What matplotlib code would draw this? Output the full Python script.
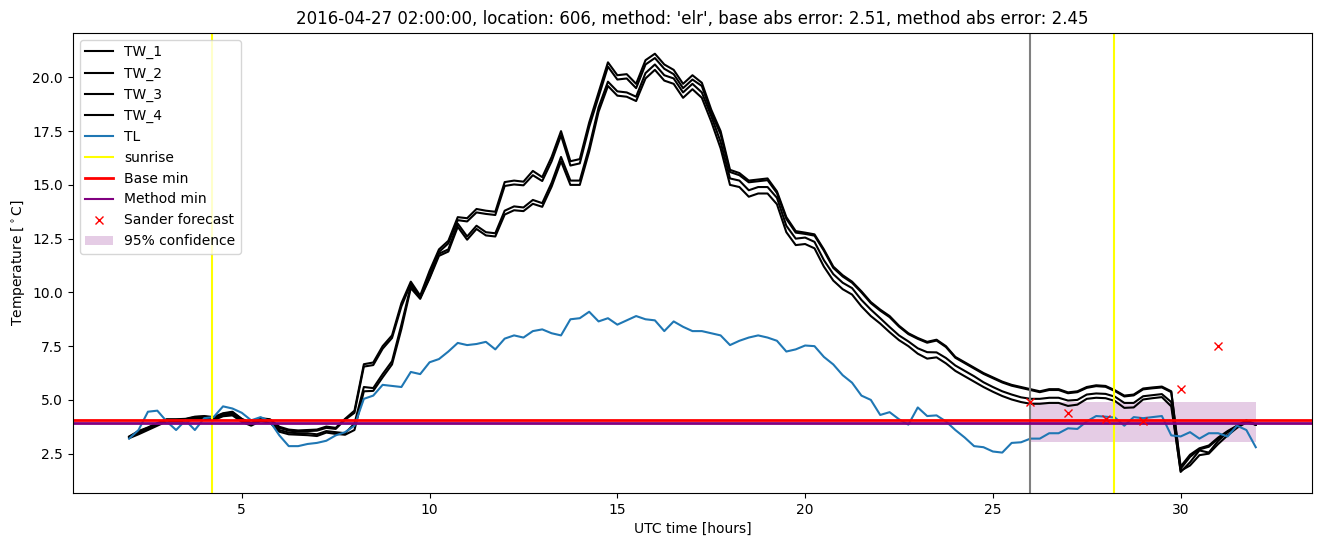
import numpy as np
import matplotlib
matplotlib.use("Agg")
import matplotlib.pyplot as plt

# time axis: hours since 2016-04-27 00:00 UTC, every 15 min
hours = np.arange(2.0, 32.01, 0.25)

tw_1 = [3.3, 3.55, 3.72, 3.92, 4.1, 4.1, 4.12, 4.22, 4.25, 4.2, 4.38, 4.45,
        4.12, 3.92, 4.15, 4.1, 3.75, 3.62, 3.58, 3.6, 3.62, 3.76, 3.7, 4.12,
        4.5, 6.66, 6.74, 7.5, 8.0, 9.5, 10.5, 9.85, 11.0, 12.0, 12.4, 13.5,
        13.45, 13.88, 13.8, 13.75, 15.13, 15.2, 15.15, 15.65, 15.36, 16.3, 17.5, 16.1,
        16.2, 17.9, 19.3, 20.7, 20.1, 20.15, 19.7, 20.8, 21.1, 20.6, 20.35, 19.7,
        20.1, 19.75, 18.5, 17.5, 15.7, 15.55, 15.2, 15.25, 15.3, 14.7, 13.5, 12.85,
        12.78, 12.7, 12.0, 11.2, 10.8, 10.5, 10.05, 9.55, 9.2, 8.9, 8.45, 8.1,
        7.88, 7.7, 7.8, 7.5, 7.0, 6.75, 6.5, 6.25, 6.05, 5.85, 5.7, 5.6,
        5.5, 5.4, 5.5, 5.5, 5.35, 5.4, 5.6, 5.68, 5.65, 5.45, 5.2, 5.25,
        5.53, 5.58, 5.62, 5.4, 1.9, 2.45, 2.75, 2.88, 3.25, 3.55, 3.8, 4.05, 3.85]

tw_2 = [3.28, 3.52, 3.7, 3.9, 4.08, 4.08, 4.1, 4.2, 4.22, 4.17, 4.35, 4.42,
        4.1, 3.9, 4.12, 4.07, 3.7, 3.57, 3.53, 3.55, 3.57, 3.7, 3.65, 4.08,
        4.4, 6.55, 6.62, 7.38, 7.88, 9.35, 10.4, 9.75, 10.9, 11.88, 12.28, 13.36,
        13.3, 13.72, 13.65, 13.6, 14.95, 15.02, 14.98, 15.45, 15.18, 16.1, 17.3, 15.9,
        16.0, 17.7, 19.1, 20.5, 19.9, 19.95, 19.5, 20.6, 20.9, 20.4, 20.15, 19.5,
        19.9, 19.6, 18.35, 17.35, 15.6, 15.45, 15.12, 15.17, 15.22, 14.62, 13.42, 12.78,
        12.72, 12.64, 11.94, 11.14, 10.74, 10.45, 10.0, 9.5, 9.15, 8.85, 8.41, 8.06,
        7.84, 7.66, 7.76, 7.46, 6.96, 6.71, 6.46, 6.21, 6.01, 5.81, 5.66, 5.56,
        5.46, 5.36, 5.46, 5.46, 5.31, 5.36, 5.56, 5.64, 5.61, 5.41, 5.16, 5.21,
        5.49, 5.54, 5.58, 5.36, 1.8, 2.35, 2.7, 2.82, 3.2, 3.52, 3.78, 4.02, 3.85]

tw_3 = [3.25, 3.45, 3.65, 3.85, 4.05, 4.05, 4.05, 4.15, 4.18, 4.12, 4.3, 4.35,
        4.05, 3.85, 4.08, 4.0, 3.6, 3.48, 3.45, 3.45, 3.4, 3.55, 3.5, 3.45,
        3.9, 5.6, 5.55, 6.2, 6.8, 8.5, 10.3, 9.75, 10.7, 11.8, 12.0, 13.2,
        12.6, 13.1, 12.8, 12.75, 13.8, 14.0, 13.95, 14.3, 14.15, 15.1, 16.3, 15.2,
        15.2, 16.75, 18.6, 19.8, 19.35, 19.3, 19.1, 20.2, 20.6, 20.1, 19.95, 19.3,
        19.7, 19.3, 18.2, 17.0, 15.3, 15.2, 14.75, 14.9, 14.9, 14.4, 13.1, 12.5,
        12.55, 12.35, 11.5, 10.85, 10.45, 10.2, 9.65, 9.2, 8.8, 8.39, 8.0, 7.72,
        7.4, 7.22, 7.21, 6.95, 6.6, 6.35, 6.1, 5.82, 5.6, 5.4, 5.25, 5.12,
        5.05, 5.05, 5.1, 5.1, 4.97, 5.0, 5.25, 5.3, 5.28, 5.15, 4.86, 4.86,
        5.17, 5.22, 5.27, 4.9, 1.65, 2.1, 2.65, 2.55, 3.1, 3.5, 3.75, 4.0, 3.85]

tw_4 = [3.22, 3.4, 3.6, 3.8, 4.0, 4.0, 4.0, 4.1, 4.12, 4.06, 4.24, 4.28,
        3.98, 3.8, 4.02, 3.94, 3.52, 3.4, 3.38, 3.36, 3.32, 3.48, 3.42, 3.38,
        3.6, 5.4, 5.42, 6.05, 6.65, 8.3, 10.2, 9.7, 10.65, 11.7, 11.9, 13.05,
        12.45, 12.95, 12.65, 12.6, 13.62, 13.82, 13.78, 14.12, 13.98, 14.92, 16.1, 15.0,
        15.0, 16.55, 18.4, 19.6, 19.15, 19.1, 18.9, 19.95, 20.35, 19.85, 19.7, 19.05,
        19.45, 19.05, 17.95, 16.7, 15.0, 14.9, 14.45, 14.6, 14.6, 14.1, 12.8, 12.2,
        12.25, 12.05, 11.2, 10.55, 10.15, 9.9, 9.35, 8.9, 8.55, 8.15, 7.78, 7.5,
        7.15, 6.92, 6.98, 6.7, 6.35, 6.1, 5.85, 5.6, 5.38, 5.18, 5.02, 4.9,
        4.82, 4.82, 4.86, 4.86, 4.72, 4.78, 5.05, 5.1, 5.08, 4.95, 4.63, 4.65,
        5.02, 5.08, 5.13, 4.7, 1.7, 1.95, 2.43, 2.5, 2.95, 3.35, 3.7, 3.95, 3.85]

tl = [3.2, 3.6, 4.45, 4.5, 4.0, 3.6, 4.05, 3.6, 4.15, 4.2, 4.7, 4.6,
      4.4, 4.05, 4.2, 4.0, 3.35, 2.85, 2.85, 2.95, 3.0, 3.1, 3.35, 3.5,
      3.8, 5.05, 5.2, 5.7, 5.65, 5.6, 6.3, 6.2, 6.75, 6.9, 7.25, 7.65,
      7.55, 7.6, 7.7, 7.35, 7.85, 8.0, 7.9, 8.2, 8.28, 8.1, 8.0, 8.75,
      8.8, 9.1, 8.65, 8.8, 8.5, 8.7, 8.9, 8.75, 8.7, 8.2, 8.65, 8.4,
      8.2, 8.2, 8.1, 8.0, 7.55, 7.75, 7.9, 8.0, 7.9, 7.75, 7.25, 7.35,
      7.53, 7.5, 7.0, 6.65, 6.15, 5.8, 5.2, 5.0, 4.3, 4.43, 4.1, 3.85,
      4.65, 4.25, 4.28, 4.0, 3.6, 3.25, 2.85, 2.8, 2.6, 2.55, 3.0, 3.03,
      3.2, 3.2, 3.45, 3.45, 3.68, 3.65, 4.0, 4.25, 4.22, 4.18, 3.8, 4.2,
      4.15, 4.2, 4.25, 3.35, 3.3, 3.5, 3.2, 3.45, 3.45, 3.3, 3.8, 3.6, 2.8]

sunrise = [4.2, 28.22]
forecast_time = 26.0
base_min = 4.05
method_min = 3.93
conf_low = 3.03
conf_high = 4.89
conf_hours = [26.0, 32.0]

sander_hours = [26, 27, 28, 29, 30, 31]
sander_temp = [4.9, 4.4, 4.1, 4.02, 5.5, 7.5]

fig, ax = plt.subplots(figsize=(13.24, 5.47), dpi=100)
fig.subplots_adjust(left=0.055, right=0.991, top=0.94, bottom=0.099)

for i, tw in enumerate([tw_1, tw_2, tw_3, tw_4]):
    ax.plot(hours, tw, color="black", label="TW_%d" % (i + 1))
ax.plot(hours, tl, color="tab:blue", label="TL")

ax.axvline(sunrise[0], color="yellow", label="sunrise")
ax.axvline(sunrise[1], color="yellow")
ax.axvline(forecast_time, color="grey")

ax.axhline(method_min, color="purple", lw=2)
ax.axhline(base_min, color="red", lw=2, label="Base min")
# dummy handle so Method min comes after Base min in the legend
ax.plot([], [], color="purple", label="Method min")

ax.plot(sander_hours, sander_temp, "x", color="red", label="Sander forecast")
ax.fill_between(conf_hours, [conf_low] * 2, [conf_high] * 2,
                color="purple", alpha=0.2, lw=0, label="95% confidence")

ax.set_title("2016-04-27 02:00:00, location: 606, method: 'elr', "
             "base abs error: 2.51, method abs error: 2.45")
ax.set_xlabel("UTC time [hours]")
ax.set_ylabel("Temperature [$^\\circ$C]")
ax.legend(loc="upper left")

fig.savefig("out.png")
